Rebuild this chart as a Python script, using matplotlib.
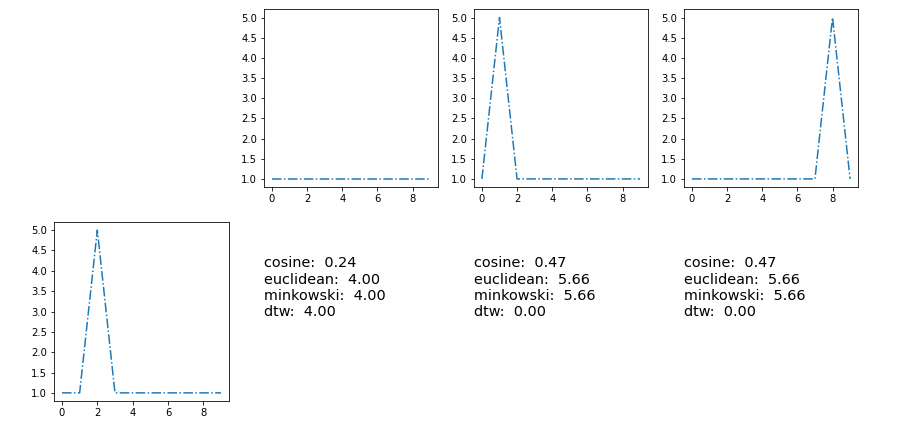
import numpy as np
import matplotlib
matplotlib.use('Agg')
from matplotlib import pyplot as plt
from matplotlib.ticker import MultipleLocator, FormatStrFormatter

x = list(range(10))
flat = [1, 1, 1, 1, 1, 1, 1, 1, 1, 1]
peak_1 = [1, 5, 1, 1, 1, 1, 1, 1, 1, 1]
peak_8 = [1, 1, 1, 1, 1, 1, 1, 1, 5, 1]
query = [1, 1, 5, 1, 1, 1, 1, 1, 1, 1]

cosine = [0.24, 0.47, 0.47]
euclidean = [4.00, 5.66, 5.66]
minkowski = [4.00, 5.66, 5.66]
dtw = [4.00, 0.00, 0.00]

W, H = 922, 430
fig = plt.figure(figsize=(W / 72, H / 72), dpi=72)

def px_axes(left, top, right, bottom):
    return fig.add_axes([left / W, 1 - bottom / H, (right - left) / W, (bottom - top) / H])

def style(ax):
    ax.set_ylim(0.8, 5.2)
    ax.yaxis.set_major_locator(MultipleLocator(0.5))
    ax.yaxis.set_major_formatter(FormatStrFormatter('%.1f'))

top_series = [flat, peak_1, peak_8]
lefts = [264, 474, 684]
for i, s in enumerate(top_series):
    ax = px_axes(lefts[i], 9.5, lefts[i] + 174, 187)
    ax.plot(x, s, '-.')
    style(ax)

ax = px_axes(54, 222, 229, 401)
ax.plot(x, query, '-.')
style(ax)

for i in range(3):
    ax = px_axes(lefts[i], 222, lefts[i] + 174, 401)
    ax.axis('off')
    txt = 'cosine:  %.2f\neuclidean:  %.2f\nminkowski:  %.2f\ndtw:  %.2f' % (
        cosine[i], euclidean[i], minkowski[i], dtw[i])
    ax.text(0, 0.475, txt, fontsize=14.4, transform=ax.transAxes)

fig.savefig('out.png', dpi=72)
